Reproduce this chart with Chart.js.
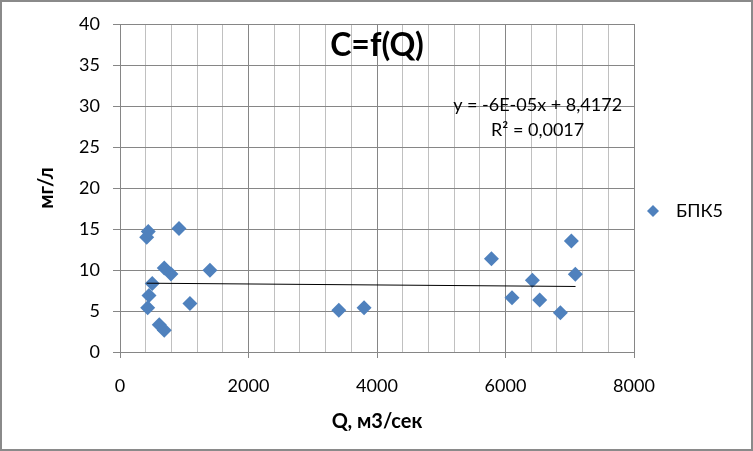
<!DOCTYPE html>
<html>
<head>
<meta charset="utf-8">
<script src="https://cdn.jsdelivr.net/npm/chart.js@4"></script>
<style>
    html, body { margin: 0; padding: 0; background: #fff; }
</style>
</head>
<body>
<canvas id="chart" width="753" height="451"></canvas>
<script>
// data
const flowQ = [415, 440, 918, 689, 793, 1400, 502, 451, 431, 1089, 611, 689, 3406, 3799, 5781, 7025, 7087, 6418, 6101, 6532, 6854];
const bpk5 = [14.0, 14.7, 15.05, 10.25, 9.5, 9.96, 8.34, 6.9, 5.4, 5.9, 3.33, 2.64, 5.08, 5.4, 11.36, 13.55, 9.47, 8.74, 6.63, 6.35, 4.8];
const trendQ = [415, 7090];
const trendC = [8.39, 7.99];
const xTickLabels = [0, 2000, 4000, 6000, 8000];
const yTickLabels = [0, 5, 10, 15, 20, 25, 30, 35, 40];

const seriesName = 'БПК5';
const chartTitle = 'C=f(Q)';
const eqText = 'y = -6E-05x + 8,4172';
const r2Text = 'R² = 0,0017';

const FONT = 'Lato';
const blue = '#4f81bd';
const gridDark = '#868686';
const gridLight = '#c0c0c0';

const decor = {
    id: 'decor',
    afterDraw(chart) {
        const { ctx, chartArea, scales } = chart;
        ctx.save();
        ctx.fillStyle = '#000';
        ctx.textAlign = 'center';
        ctx.textBaseline = 'middle';

        ctx.font = 'bold 32px ' + FONT;
        ctx.fillText(chartTitle, (chartArea.left + chartArea.right) / 2, chartArea.top + 22);

        ctx.font = '18px ' + FONT;
        const ex = scales.x.getPixelForValue(6500);
        ctx.fillText(eqText, ex, scales.y.getPixelForValue(30.1));
        ctx.fillText(r2Text, ex, scales.y.getPixelForValue(27.1));

        // legend
        const lx = chartArea.right + 19, ly = 211, r = 6;
        ctx.fillStyle = blue;
        ctx.beginPath();
        ctx.moveTo(lx, ly - r);
        ctx.lineTo(lx + r, ly);
        ctx.lineTo(lx, ly + r);
        ctx.lineTo(lx - r, ly);
        ctx.closePath();
        ctx.fill();
        ctx.fillStyle = '#000';
        ctx.textAlign = 'left';
        ctx.fillText(chart.data.datasets[1].label, lx + 23, ly);

        // outer frame
        ctx.strokeStyle = '#8a8a8a';
        ctx.lineWidth = 2;
        ctx.strokeRect(1, 1, chart.width - 2, chart.height - 2);
        ctx.restore();
    }
};

const ctx = document.getElementById('chart').getContext('2d');
new Chart(ctx, {
    type: 'scatter',
    data: {
        datasets: [{
            type: 'line',
            label: 'trend',
            data: trendQ.map((q, i) => ({ x: q, y: trendC[i] })),
            borderColor: '#000',
            borderWidth: 1,
            pointRadius: 0,
            fill: false,
            order: 0
        }, {
            label: seriesName,
            data: flowQ.map((q, i) => ({ x: q, y: bpk5[i] })),
            pointStyle: 'rectRot',
            pointRadius: 7.5,
            backgroundColor: blue,
            borderColor: blue,
            borderWidth: 0,
            order: 1
        }]
    },
    options: {
        responsive: false,
        animation: false,
        layout: { padding: { left: 0, top: 24, right: 119, bottom: 0 } },
        plugins: {
            legend: { display: false },
            tooltip: { enabled: false }
        },
        scales: {
            x: {
                type: 'linear',
                min: xTickLabels[0],
                max: xTickLabels[xTickLabels.length - 1],
                afterFit(scale) { scale.height = 99; },
                ticks: {
                    stepSize: 400,
                    autoSkip: false,
                    maxRotation: 0,
                    padding: 17,
                    color: '#000',
                    font: { family: FONT, size: 18 },
                    callback: v => xTickLabels.includes(v) ? String(v) : ''
                },
                grid: {
                    color: c => xTickLabels.includes(c.tick.value) ? gridDark : gridLight,
                    tickColor: c => xTickLabels.includes(c.tick.value) ? gridDark : 'rgba(0,0,0,0)',
                    tickLength: 6
                },
                border: { color: gridDark },
                title: {
                    display: true,
                    text: 'Q, м3/сек',
                    color: '#000',
                    font: { family: FONT, size: 20, weight: 'bold' },
                    padding: { top: 0, bottom: 17 }
                }
            },
            y: {
                min: yTickLabels[0],
                max: yTickLabels[yTickLabels.length - 1],
                afterFit(scale) { scale.width = 120; },
                ticks: {
                    stepSize: yTickLabels[1] - yTickLabels[0],
                    padding: 13,
                    color: '#000',
                    font: { family: FONT, size: 18 }
                },
                grid: { color: gridDark, tickLength: 7 },
                border: { color: gridDark },
                title: {
                    display: true,
                    text: 'мг/л',
                    color: '#000',
                    font: { family: FONT, size: 20, weight: 'bold' },
                    padding: { top: 35, bottom: 0 }
                }
            }
        }
    },
    plugins: [decor]
});
</script>
</body>
</html>
